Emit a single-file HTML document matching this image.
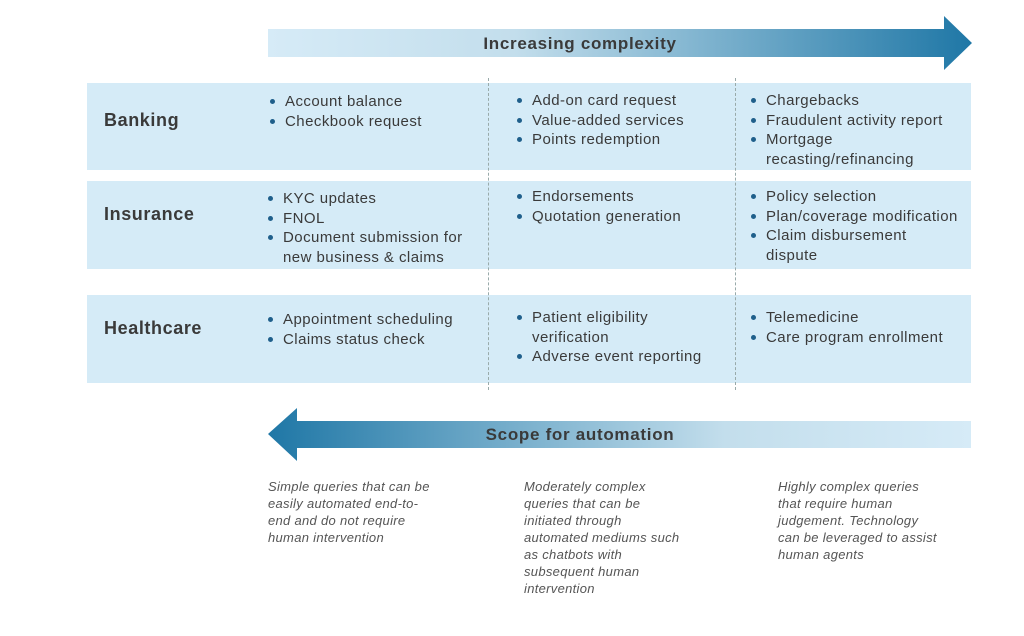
<!DOCTYPE html>
<html><head><meta charset="utf-8"><style>
body{margin:0;width:1024px;height:636px;background:#fff;position:relative;overflow:hidden;font-family:"Liberation Sans",sans-serif;color:#3a3a3a}
.row{position:absolute;left:87px;width:884px;background:#d5ebf7}
.lab{position:absolute;left:104px;font-weight:bold;font-size:18px;letter-spacing:0.6px;color:#3a3a3a}
ul{position:absolute;margin:0;padding:0;list-style:none;font-size:15px;letter-spacing:0.45px;line-height:19.5px;white-space:nowrap}
li{position:relative;padding-left:15px}
li:before{content:"";position:absolute;left:0;top:7px;width:5px;height:5px;border-radius:50%;background:#1f5f8b}
.dash{position:absolute;top:78px;height:312px;border-left:1px dashed #9aa}
.cap{position:absolute;font-style:italic;font-size:13px;letter-spacing:0.3px;line-height:17px;color:#555;top:478px;white-space:nowrap}
.t{position:absolute;width:400px;text-align:center;font-weight:bold;font-size:17px;letter-spacing:0.7px;color:#3a3a3a}
</style></head><body>
<svg width="1024" height="636" style="position:absolute;left:0;top:0">
<defs>
<linearGradient id="g1" x1="0" x2="1"><stop offset="0" stop-color="#d6ebf7"/><stop offset="0.35" stop-color="#c3deec"/><stop offset="1" stop-color="#1f77a6"/></linearGradient>
<linearGradient id="g2" x1="1" x2="0"><stop offset="0" stop-color="#d6ebf7"/><stop offset="0.35" stop-color="#c3deec"/><stop offset="1" stop-color="#1f77a6"/></linearGradient>
</defs>
<polygon points="268,29 944,29 944,16 972,43 944,70 944,57 268,57" fill="url(#g1)"/>
<polygon points="971,421 297,421 297,408 268,434 297,461 297,448 971,448" fill="url(#g2)"/>
</svg>
<div class="t" style="left:380px;top:34px">Increasing complexity</div>
<div class="t" style="left:380px;top:425px">Scope for automation</div>

<div class="row" style="top:83px;height:87px"></div>
<div class="row" style="top:181px;height:88px"></div>
<div class="row" style="top:295px;height:88px"></div>
<div class="dash" style="left:488px"></div>
<div class="dash" style="left:735px"></div>

<div class="lab" style="top:110px">Banking</div>
<div class="lab" style="top:204px">Insurance</div>
<div class="lab" style="top:318px">Healthcare</div>

<ul style="left:270px;top:92px"><li>Account balance</li><li>Checkbook request</li></ul>
<ul style="left:517px;top:91px"><li>Add-on card request</li><li>Value-added services</li><li>Points redemption</li></ul>
<ul style="left:751px;top:91px"><li>Chargebacks</li><li>Fraudulent activity report</li><li>Mortgage<br>recasting/refinancing</li></ul>

<ul style="left:268px;top:189px"><li>KYC updates</li><li>FNOL</li><li>Document submission for<br>new business &amp; claims</li></ul>
<ul style="left:517px;top:187px"><li>Endorsements</li><li>Quotation generation</li></ul>
<ul style="left:751px;top:187px"><li>Policy selection</li><li>Plan/coverage modification</li><li>Claim disbursement<br>dispute</li></ul>

<ul style="left:268px;top:310px"><li>Appointment scheduling</li><li>Claims status check</li></ul>
<ul style="left:517px;top:308px"><li>Patient eligibility<br>verification</li><li>Adverse event reporting</li></ul>
<ul style="left:751px;top:308px"><li>Telemedicine</li><li>Care program enrollment</li></ul>

<div class="cap" style="left:268px">Simple queries that can be<br>easily automated end-to-<br>end and do not require<br>human intervention</div>
<div class="cap" style="left:524px">Moderately complex<br>queries that can be<br>initiated through<br>automated mediums such<br>as chatbots with<br>subsequent human<br>intervention</div>
<div class="cap" style="left:778px">Highly complex queries<br>that require human<br>judgement. Technology<br>can be leveraged to assist<br>human agents</div>
</body></html>
